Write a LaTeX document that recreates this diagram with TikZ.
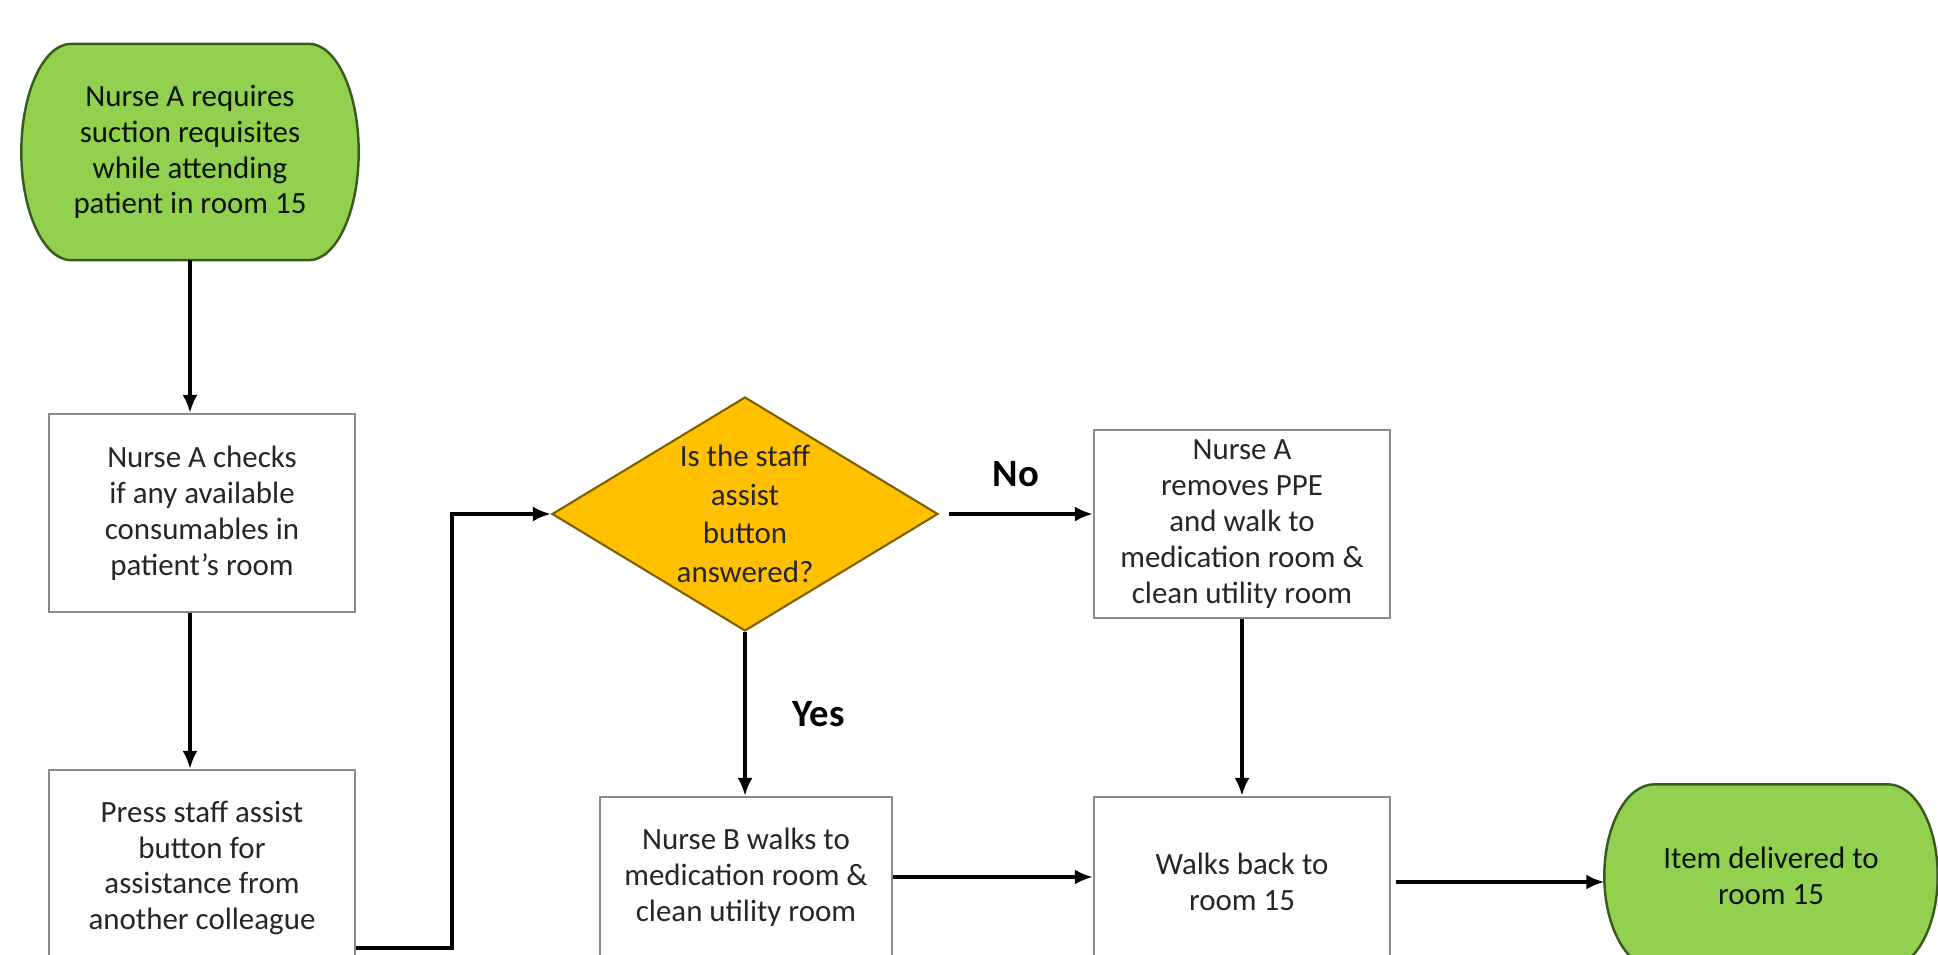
\documentclass[tikz,border=0pt]{standalone}
\usepackage{fontspec}
\setmainfont{Carlito}
\usepackage{tikz}
\usetikzlibrary{arrows.meta,backgrounds,calc,shapes.geometric}
\definecolor{termfill}{HTML}{92D050}
\definecolor{termedge}{HTML}{3A5A1E}
\definecolor{askfill}{HTML}{FFC000}
\definecolor{askedge}{HTML}{7F6000}
\definecolor{boxedge}{HTML}{8A8A8A}
\definecolor{inktext}{HTML}{262626}
\tikzset{
	txt/.style={font=\fontsize{8.8}{10.2}\selectfont, align=center, text=inktext, inner sep=0pt},
	term/.style={txt, text=black!80!termedge},
	termline/.style={draw=termedge, line width=0.7pt, fill=termfill},
	stepbox/.style={txt, draw=boxedge, line width=0.6pt, fill=white},
	ask/.style={txt, diamond, aspect=1.65, draw=askedge, line width=0.6pt, fill=askfill, minimum width=38.6mm, minimum height=23.4mm, font=\fontsize{8.8}{11}\selectfont},
	arr/.style={line width=1pt, -{Latex[length=1.8mm,width=1.5mm]}},
	yesno/.style={font=\fontsize{11}{13}\selectfont\bfseries, text=black, inner sep=0pt}
}

\begin{document}
\begin{tikzpicture}[x=0.1mm, y=-0.1mm]
		%%%%% START %%%%%
		\useasboundingbox (0,0) rectangle (1938,955);
		\clip (0,0) rectangle (1938,955);
		
		\node[term, minimum width=33.6mm, minimum height=21.5mm] (start) at (190,152) {Nurse A requires\\suction requisites\\while attending\\patient in room 15};
		
		\node[stepbox, minimum width=30.6mm, minimum height=19.8mm] (check) at (202,513) {Nurse A checks\\if any available\\consumables in\\patient's room};
		\node[stepbox, minimum width=30.6mm, minimum height=19.6mm] (press) at (202,868) {Press staff assist\\button for\\assistance from\\another colleague};
		
		\node[ask] (ask) at (745,514) {Is the staff\\assist\\button\\answered?};
		
		\node[stepbox, minimum width=29.6mm, minimum height=18.8mm] (removes) at (1242,524) {Nurse A\\removes PPE\\and walk to\\medication room \&\\clean utility room};
		\node[stepbox, minimum width=29.2mm, minimum height=16.0mm] (nurseb) at (746,877) {Nurse B walks to\\medication room \&\\clean utility room};
		\node[stepbox, minimum width=29.6mm, minimum height=17.0mm] (walk) at (1242,882) {Walks back to\\room 15};
		
		\node[term, minimum width=33.2mm, minimum height=18.2mm] (done) at (1771,876) {Item delivered to\\room 15};
		
		\begin{scope}[on background layer]
			\foreach \nm in {start,done}
				\draw[termline] let \p1=(\nm.north), \p2=(\nm.south), \n1={0.5*(\y1-\y2)} in
					([xshift=5mm]\nm.north west) -- ([xshift=-5mm]\nm.north east)
					arc[start angle=90, end angle=-90, x radius=5mm, y radius=\n1]
					-- ([xshift=5mm]\nm.south west)
					arc[start angle=270, end angle=90, x radius=5mm, y radius=\n1] -- cycle;
		\end{scope}
		
		\draw[arr] (start.south) -- (start.south |- check.north);
		\draw[arr] (check.south -| start.south) -- (press.north -| start.south);
		\draw[arr] ([yshift=1.9mm]press.south east) -| ([xshift=-9.9mm]ask.west) -- (ask.west);
		\draw[arr, shorten <=1mm] (ask.east) -- (ask.east -| removes.west) node[yesno, midway, above=2.5mm] (no) {No};
		\draw[arr] (ask.south) -- (ask.south |- nurseb.north) node[yesno, midway, right=4.6mm] (yes) {Yes};
		\draw[arr] (removes.south) -- (walk.north);
		\draw[arr] (nurseb.east) -- (nurseb.east -| walk.west);
		\draw[arr, shorten <=0.5mm] (walk.east) -- (walk.east -| done.west);
		
		%%%%% END %%%%%
\end{tikzpicture}
\end{document}
